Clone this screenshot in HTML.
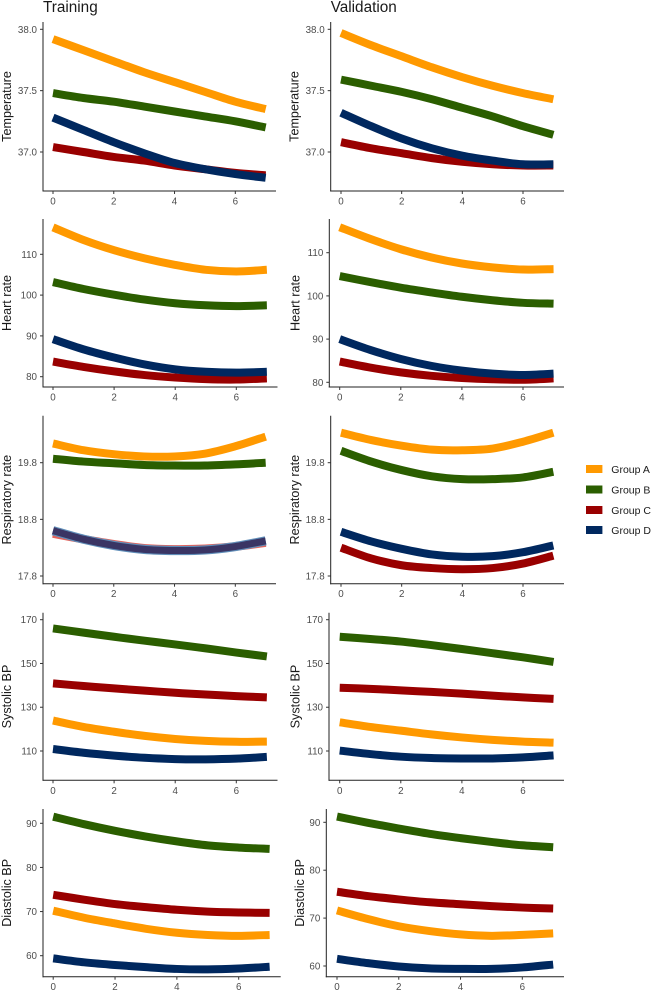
<!DOCTYPE html>
<html>
<head>
<meta charset="utf-8">
<title>Training and validation trajectories</title>
<style>
html,body{margin:0;padding:0;background:#fff;width:651px;height:992px;overflow:hidden}
svg{display:block;font-family:"Liberation Sans",sans-serif}
</style>
</head>
<body>
<svg id="chart" xmlns="http://www.w3.org/2000/svg" width="651" height="992" viewBox="0 0 651 992">
  <text x="43" y="12" font-size="15.3" fill="#1a1a1a">Training</text>
  <text x="330.7" y="12" font-size="15.3" fill="#1a1a1a">Validation</text>
  <g font-size="10.5" fill="#1a1a1a">
    <g><rect x="586" y="465" width="16.4" height="8" fill="#ff9900"/><text x="611.3" y="473">Group A</text></g>
    <g><rect x="586" y="485.5" width="16.4" height="8" fill="#2b5e00"/><text x="611.3" y="493.5">Group B</text></g>
    <g><rect x="586" y="506" width="16.4" height="8" fill="#990000"/><text x="611.3" y="514">Group C</text></g>
    <g><rect x="586" y="526" width="16.4" height="8" fill="#00285f"/><text x="611.3" y="534">Group D</text></g>
  </g>
</svg>
<script>
const days = [0,1,2,3,4,5,6,7];
const xTickValues = [0,2,4,6];

const tempTicks = ["38.0","37.5","37.0"];
const hrTicks = ["110","100","90","80"];
const rrTicks = ["19.8","18.8","17.8"];
const sbpTicks = ["170","150","130","110"];
const dbpTicks = ["90","80","70","60"];

const tempTrainA = [37.92,37.83,37.74,37.65,37.57,37.49,37.41,37.35];
const tempTrainB = [37.48,37.44,37.41,37.37,37.33,37.29,37.25,37.20];
const tempTrainC = [37.04,37.00,36.96,36.93,36.89,36.86,36.83,36.81];
const tempTrainD = [37.28,37.18,37.08,36.99,36.91,36.86,36.82,36.79];
const tempValA = [37.97,37.87,37.78,37.69,37.61,37.54,37.48,37.43];
const tempValB = [37.59,37.54,37.49,37.43,37.36,37.29,37.21,37.14];
const tempValC = [37.08,37.03,36.99,36.95,36.92,36.90,36.89,36.89];
const tempValD = [37.32,37.21,37.11,37.03,36.97,36.93,36.90,36.90];

const hrTrainA = [116.6,113.5,111.0,109.0,107.4,106.2,105.8,106.2];
const hrTrainB = [103.2,101.5,100.1,98.9,98.0,97.5,97.3,97.5];
const hrTrainC = [83.7,82.4,81.3,80.4,79.8,79.4,79.3,79.6];
const hrTrainD = [89.2,86.7,84.7,83.0,81.8,81.2,81.0,81.2];
const hrValA = [115.9,113.2,110.8,108.9,107.5,106.6,106.1,106.2];
const hrValB = [104.6,103.2,101.9,100.8,99.8,99.0,98.4,98.2];
const hrValC = [84.8,83.4,82.3,81.5,81.0,80.7,80.6,80.9];
const hrValD = [90.0,87.5,85.4,83.8,82.7,82.0,81.7,82.0];

const rrTrainA = [20.14,20.02,19.95,19.91,19.91,19.96,20.09,20.26];
const rrTrainB = [19.87,19.82,19.79,19.76,19.75,19.75,19.77,19.80];
const rrTrainC = [18.55,18.45,18.36,18.29,18.27,18.28,18.32,18.39];
const rrTrainD = [18.60,18.45,18.34,18.27,18.25,18.26,18.32,18.42];
const rrValA = [20.33,20.20,20.10,20.03,20.02,20.05,20.17,20.33];
const rrValB = [20.01,19.82,19.67,19.56,19.51,19.51,19.54,19.64];
const rrValC = [18.30,18.11,17.99,17.94,17.92,17.94,18.02,18.16];
const rrValD = [18.58,18.41,18.28,18.18,18.14,18.15,18.22,18.34];

const sbpTrainA = [123.9,121.0,118.8,116.9,115.5,114.6,114.2,114.3];
const sbpTrainB = [166.0,164.1,162.2,160.4,158.7,156.9,155.0,153.2];
const sbpTrainC = [140.9,139.7,138.6,137.6,136.6,135.8,135.1,134.5];
const sbpTrainD = [110.9,109.2,107.9,106.9,106.3,106.2,106.5,107.3];
const sbpValA = [123.1,121.0,119.3,117.6,116.2,115.1,114.3,113.8];
const sbpValB = [162.2,161.2,160.0,158.4,156.6,154.7,152.8,150.7];
const sbpValC = [138.9,138.4,137.7,137.0,136.2,135.3,134.5,133.8];
const sbpValD = [110.2,108.6,107.4,106.8,106.6,106.6,107.1,108.0];

const dbpTrainA = [70.2,68.6,67.3,66.1,65.2,64.7,64.5,64.7];
const dbpTrainB = [91.5,89.8,88.3,87.0,85.9,85.0,84.5,84.2];
const dbpTrainC = [73.8,72.7,71.7,71.0,70.4,70.0,69.8,69.7];
const dbpTrainD = [59.4,58.5,57.9,57.4,57.0,56.9,57.1,57.5];
const dbpValA = [71.6,69.8,68.3,67.3,66.6,66.3,66.5,66.8];
const dbpValB = [91.2,89.9,88.7,87.6,86.7,85.9,85.2,84.8];
const dbpValC = [75.5,74.6,73.9,73.3,72.9,72.5,72.2,72.0];
const dbpValD = [61.5,60.6,59.9,59.5,59.4,59.4,59.7,60.3];

const groupColors = ["#ff9900","#2b5e00","#990000","#00285f"];
const groupKeys = ["a","b","c","d"];

const panels = [
 {id:"temperature-training",label:"Temperature",ticks:tempTicks,series:[tempTrainA,tempTrainB,tempTrainC,tempTrainD],ax:43,right:276,x0:53,x6:235.3,top:22,bottom:191,yHi:29.3,yLo:152,labelX:11},
 {id:"temperature-validation",label:"Temperature",ticks:tempTicks,series:[tempValA,tempValB,tempValC,tempValD],ax:330.7,right:564,x0:341,x6:523,top:22,bottom:191,yHi:29.3,yLo:152,labelX:298.7},
 {id:"heart-rate-training",label:"Heart rate",ticks:hrTicks,series:[hrTrainA,hrTrainB,hrTrainC,hrTrainD],ax:43,right:277.5,x0:53,x6:236.3,top:219,bottom:387,yHi:254.3,yLo:376.7,labelX:11},
 {id:"heart-rate-validation",label:"Heart rate",ticks:hrTicks,series:[hrValA,hrValB,hrValC,hrValD],ax:329.3,right:564,x0:339.7,x6:523,top:219,bottom:387,yHi:252.7,yLo:382.3,labelX:299.5},
 {id:"respiratory-rate-training",label:"Respiratory rate",ticks:rrTicks,series:[rrTrainA,rrTrainB,rrTrainC,rrTrainD],ax:43,right:276,x0:53,x6:235.3,top:415.7,bottom:583.7,yHi:462.7,yLo:576,labelX:11,overlap:true},
 {id:"respiratory-rate-validation",label:"Respiratory rate",ticks:rrTicks,series:[rrValA,rrValB,rrValC,rrValD],ax:330.7,right:564,x0:341,x6:523,top:415.7,bottom:583.7,yHi:462.7,yLo:576,labelX:299},
 {id:"systolic-bp-training",label:"Systolic BP",ticks:sbpTicks,series:[sbpTrainA,sbpTrainB,sbpTrainC,sbpTrainD],ax:43,right:277.5,x0:53,x6:236.3,top:612.7,bottom:780.3,yHi:619.7,yLo:751,labelX:11},
 {id:"systolic-bp-validation",label:"Systolic BP",ticks:sbpTicks,series:[sbpValA,sbpValB,sbpValC,sbpValD],ax:329,right:564,x0:339.7,x6:523,top:612.7,bottom:780.3,yHi:619.7,yLo:751,labelX:299.5},
 {id:"diastolic-bp-training",label:"Diastolic BP",ticks:dbpTicks,series:[dbpTrainA,dbpTrainB,dbpTrainC,dbpTrainD],ax:43,right:280.7,x0:53.2,x6:238.7,top:809,bottom:976.7,yHi:823.3,yLo:955.7,labelX:11},
 {id:"diastolic-bp-validation",label:"Diastolic BP",ticks:dbpTicks,series:[dbpValA,dbpValB,dbpValC,dbpValD],ax:326.3,right:564,x0:337,x6:522.3,top:809,bottom:976.7,yHi:822.3,yLo:966,labelX:304}
];

const NS = "http://www.w3.org/2000/svg";
const root = document.getElementById("chart");
function mk(parent, tag, attrs, text){
  const el = document.createElementNS(NS, tag);
  for (const k in attrs) el.setAttribute(k, attrs[k]);
  if (text !== undefined) el.textContent = text;
  parent.appendChild(el);
  return el;
}
panels.forEach(function(p){
  const first = parseFloat(p.ticks[0]);
  const last = parseFloat(p.ticks[p.ticks.length-1]);
  const xScale = function(v){ return p.x0 + (p.x6 - p.x0) * v / 6; };
  const yScale = function(v){ return p.yHi + (p.yLo - p.yHi) * (first - v) / (first - last); };
  const g = mk(root, "g", {});
  
  

  const pathOf = function(values){
    const pts = values.map(function(v,i){ return [xScale(days[i]), yScale(v)]; });
    let d = "M" + pts[0][0].toFixed(2) + " " + pts[0][1].toFixed(2);
    for (let i = 0; i < pts.length - 1; i++) {
      const a = pts[Math.max(i - 1, 0)], b = pts[i], c = pts[i + 1], e = pts[Math.min(i + 2, pts.length - 1)];
      d += " C" + (b[0] + (c[0] - a[0]) / 6).toFixed(2) + " " + (b[1] + (c[1] - a[1]) / 6).toFixed(2) +
           " " + (c[0] - (e[0] - b[0]) / 6).toFixed(2) + " " + (c[1] - (e[1] - b[1]) / 6).toFixed(2) +
           " " + c[0].toFixed(2) + " " + c[1].toFixed(2);
    }
    return d;
  };
  if (p.overlap) {
    const ribbonC = mk(g, "path", {d:pathOf(p.series[2]),fill:"none",stroke:"#e4645c","stroke-width":8.6,"stroke-linejoin":"round"});
    
    
    const ribbonD = mk(g, "path", {d:pathOf(p.series[3]),fill:"none",stroke:"#5f8db8","stroke-width":9.2,"stroke-linejoin":"round"});
    
    
  }
  p.series.forEach(function(values,i){
    const blended = p.overlap && i >= 2;
    if (blended && i === 2) return;
    const line = mk(g, "path", {d:pathOf(values),fill:"none",stroke:blended ? "#3a3564" : groupColors[i],"stroke-width":blended ? 7 : 8,"stroke-linejoin":"round"});
    
    
  });

  const yAxis = mk(g, "line", {x1:p.ax,x2:p.ax,y1:p.top,y2:p.bottom + .5,stroke:"#222","stroke-width":1});
  
  
  const xAxis = mk(g, "line", {x1:p.ax - .5,x2:p.right,y1:p.bottom,y2:p.bottom,stroke:"#222","stroke-width":1});
  
  

  p.ticks.forEach(function(t){
    const y = yScale(parseFloat(t));
    const tick = mk(g, "line", {x1:p.ax - 3,x2:p.ax,y1:y,y2:y,stroke:"#333","stroke-width":1});
    
    
    const lab = mk(g, "text", {x:p.ax - 6,y:y + 3.5,"font-size":9.8,fill:"#4d4d4d","text-anchor":"end"}, t);
    
    
  });
  xTickValues.forEach(function(t){
    const x = xScale(t);
    const tick = mk(g, "line", {x1:x,x2:x,y1:p.bottom,y2:p.bottom + 3,stroke:"#333","stroke-width":1});
    
    
    const lab = mk(g, "text", {x:x,y:p.bottom + 13.5,"font-size":9.8,fill:"#4d4d4d","text-anchor":"middle"}, String(t));
    
    
  });
  const mid = (p.top + p.bottom) / 2;
  const yTitle = mk(g, "text", {x:p.labelX,y:mid,"font-size":12.6,fill:"#1a1a1a","text-anchor":"middle",transform:"rotate(-90 " + p.labelX + " " + mid + ")"}, p.label);
  
  
});
</script>
</body>
</html>
